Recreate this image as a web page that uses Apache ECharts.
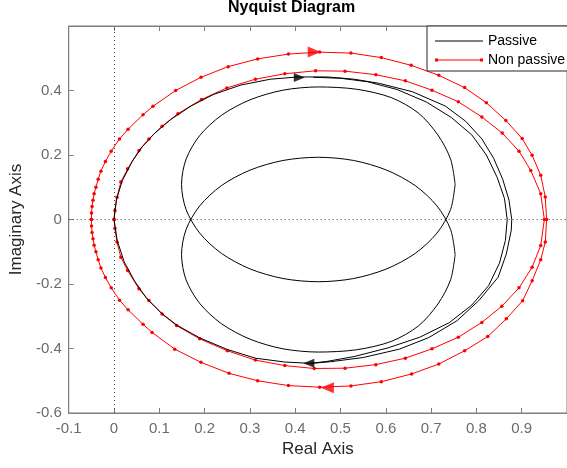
<!DOCTYPE html>
<html>
<head>
<meta charset="utf-8">
<title>Nyquist Diagram</title>
<script src="https://cdn.jsdelivr.net/npm/echarts@6/dist/echarts.min.js"></script>
<style>
  html, body { margin: 0; padding: 0; background: #fff; }
  #chart { width: 567px; height: 468px; }
</style>
</head>
<body>
<div id="chart"></div>
<script>
  // passive system: outer loop, second pass on the right, two inner loops
  const passiveOuter = [
    [0, 0], [0.005, 0.06], [0.018, 0.12], [0.04, 0.18], [0.062, 0.225], [0.09, 0.268],
    [0.125, 0.31], [0.17, 0.352], [0.22, 0.388], [0.28, 0.417], [0.345, 0.435], [0.406, 0.442],
    [0.47, 0.442], [0.53, 0.435], [0.586, 0.422], [0.659, 0.396], [0.731, 0.352], [0.776, 0.305],
    [0.812, 0.25], [0.838, 0.19], [0.858, 0.125], [0.872, 0.06], [0.878, 0],
    [0.877, -0.033], [0.866, -0.107], [0.848, -0.179], [0.805, -0.252], [0.757, -0.314],
    [0.695, -0.366], [0.63, -0.402], [0.55, -0.428], [0.478, -0.441], [0.435, -0.446],
    [0.377, -0.442], [0.312, -0.43], [0.25, -0.403], [0.189, -0.367], [0.138, -0.327],
    [0.106, -0.292], [0.072, -0.245], [0.045, -0.19], [0.022, -0.13], [0.007, -0.065], [0, 0]
  ]
  const passiveRight = [
    [0.44, 0.441], [0.5, 0.438], [0.56, 0.427], [0.625, 0.403], [0.69, 0.364], [0.745, 0.316],
    [0.79, 0.262], [0.822, 0.2], [0.846, 0.13], [0.862, 0.065], [0.868, 0], [0.864, -0.065],
    [0.851, -0.135], [0.827, -0.205], [0.79, -0.265], [0.74, -0.32], [0.675, -0.365],
    [0.605, -0.398], [0.53, -0.425], [0.47, -0.44], [0.435, -0.446]
  ]
  const passiveUpper = [
    [0.753, 0.109], [0.743, 0.187], [0.715, 0.262], [0.672, 0.33], [0.612, 0.378], [0.535, 0.404],
    [0.451, 0.411], [0.373, 0.401], [0.3, 0.371], [0.237, 0.323], [0.189, 0.26], [0.159, 0.187],
    [0.149, 0.109], [0.159, 0.031], [0.189, -0.042], [0.237, -0.105], [0.3, -0.153], [0.373, -0.183],
    [0.451, -0.193], [0.529, -0.183], [0.602, -0.153], [0.665, -0.105], [0.713, -0.042],
    [0.743, 0.031], [0.753, 0.109]
  ]
  const passiveLower = [
    [0.753, -0.109], [0.743, -0.187], [0.715, -0.262], [0.672, -0.33], [0.612, -0.378], [0.535, -0.404],
    [0.451, -0.411], [0.373, -0.401], [0.3, -0.371], [0.237, -0.323], [0.189, -0.26], [0.159, -0.187],
    [0.149, -0.109], [0.159, -0.031], [0.189, 0.042], [0.237, 0.105], [0.3, 0.153], [0.373, 0.183],
    [0.451, 0.193], [0.529, 0.183], [0.602, 0.153], [0.665, 0.105], [0.713, 0.042],
    [0.743, -0.031], [0.753, -0.109]
  ]

  // non passive system: two loops sampled at the frequency points
  const nonPassiveInner = [
    [0, 0], [0.002, 0.028], [0.0065, 0.069], [0.015, 0.116], [0.03, 0.157], [0.055, 0.214],
    [0.077, 0.25], [0.106, 0.289], [0.141, 0.328], [0.193, 0.372], [0.249, 0.408], [0.312, 0.435],
    [0.377, 0.452], [0.445, 0.461], [0.51, 0.46], [0.578, 0.449], [0.643, 0.43], [0.702, 0.401],
    [0.76, 0.365], [0.812, 0.318], [0.857, 0.268], [0.894, 0.212], [0.92, 0.152], [0.942, 0.08],
    [0.95, 0],
    [0.942, -0.081], [0.923, -0.148], [0.894, -0.212], [0.856, -0.269], [0.812, -0.319],
    [0.76, -0.365], [0.702, -0.401], [0.643, -0.43], [0.578, -0.45], [0.51, -0.461], [0.442, -0.462],
    [0.377, -0.453], [0.312, -0.436], [0.25, -0.407], [0.189, -0.37], [0.138, -0.329],
    [0.106, -0.293], [0.077, -0.251], [0.055, -0.215], [0.03, -0.158], [0.015, -0.117],
    [0.0065, -0.07], [0.002, -0.028], [0, 0]
  ]
  const nonPassiveOuter = [
    [-0.05, 0], [-0.0497, 0.02], [-0.0485, 0.04], [-0.0465, 0.06], [-0.044, 0.08], [-0.04, 0.1],
    [-0.035, 0.125], [-0.029, 0.15], [-0.019, 0.18], [-0.0063, 0.212], [0.012, 0.25], [0.031, 0.28],
    [0.064, 0.325], [0.086, 0.351], [0.136, 0.4], [0.192, 0.441], [0.252, 0.474], [0.317, 0.498],
    [0.385, 0.513], [0.454, 0.519], [0.523, 0.516], [0.59, 0.502], [0.656, 0.478], [0.717, 0.447],
    [0.774, 0.409], [0.822, 0.362], [0.865, 0.307], [0.901, 0.251], [0.923, 0.199], [0.942, 0.137],
    [0.952, 0.07], [0.955, 0],
    [0.952, -0.07], [0.942, -0.125], [0.923, -0.19], [0.902, -0.252], [0.866, -0.308],
    [0.825, -0.363], [0.774, -0.407], [0.717, -0.448], [0.657, -0.479], [0.59, -0.503],
    [0.523, -0.516], [0.454, -0.52], [0.385, -0.515], [0.317, -0.5], [0.254, -0.477],
    [0.192, -0.443], [0.134, -0.402], [0.084, -0.35], [0.064, -0.325], [0.031, -0.28],
    [0.012, -0.25], [-0.0063, -0.212], [-0.019, -0.18], [-0.029, -0.15], [-0.035, -0.125],
    [-0.04, -0.1], [-0.044, -0.08], [-0.0465, -0.06], [-0.0485, -0.04], [-0.0497, -0.02], [-0.05, 0]
  ]

  // direction arrows
  const passiveArrowRight = [[0.409, 0.44]]
  const passiveArrowLeft = [[0.43, -0.446]]
  const nonPassiveArrowRight = [[0.442, 0.519]]
  const nonPassiveArrowLeft = [[0.471, -0.522]]

  const FONT = '"Liberation Sans", Arial, Helvetica, sans-serif'
  const AXIS_GRAY = '#7f7f7f'
  const LABEL_GRAY = '#6b6b6b'

  function passiveLine (data, smooth, withMarkLine) {
    let s = {
      name: 'Passive',
      type: 'line',
      data: data,
      smooth: smooth,
      showSymbol: false,
      symbol: 'none',
      color: '#000',
      lineStyle: { color: '#000', width: 1 },
      z: 3
    }
    if (withMarkLine) {
      s.markLine = {
        silent: true,
        symbol: 'none',
        label: { show: false },
        lineStyle: { color: '#444', type: [1, 3], width: 1 },
        data: [{ xAxis: 0 }, { yAxis: 0 }],
        z: 1
      }
    }
    return s
  }

  function nonPassiveLine (data) {
    return {
      name: 'Non passive',
      type: 'line',
      data: data,
      showSymbol: true,
      symbol: 'circle',
      symbolSize: 3.5,
      color: '#ff0000',
      itemStyle: { color: '#ff0000' },
      lineStyle: { color: '#ff0000', width: 1 },
      z: 2
    }
  }

  function arrow (data, color, rotate, size) {
    return {
      type: 'scatter',
      data: data,
      symbol: 'triangle',
      symbolRotate: rotate,
      symbolSize: size,
      itemStyle: { color: color },
      silent: true,
      z: 4
    }
  }

  const xAxisBase = {
    type: 'value',
    min: -0.1,
    max: 1.0,
    interval: 0.1,
    axisLine: { show: true, onZero: false, lineStyle: { color: AXIS_GRAY, width: 1 } },
    axisTick: { show: true, inside: true, length: 5, lineStyle: { color: AXIS_GRAY } },
    splitLine: { show: false }
  }

  let chart = echarts.init(document.getElementById('chart'), null, { renderer: 'canvas' })
  let option = {
    animation: false,
    textStyle: { fontFamily: FONT },
    title: {
      text: 'Nyquist Diagram',
      left: 228,
      top: 0,
      padding: 0,
      textStyle: { fontFamily: FONT, fontSize: 16, fontWeight: 'bold', color: '#000' }
    },
    legend: {
      data: [
        { name: 'Passive', icon: 'path://M0,1.5h48v1h-48z' },
        { name: 'Non passive', icon: 'path://M0,1.5h48v1h-48z M0,0.5h3v3h-3z M45,0.5h3v3h-3z' }
      ],
      orient: 'vertical',
      left: 427,
      top: 26,
      padding: [8, 10, 4, 8],
      itemWidth: 48,
      itemHeight: 4,
      itemGap: 5,
      backgroundColor: '#fff',
      borderColor: '#262626',
      borderWidth: 1,
      borderRadius: 0,
      textStyle: { fontFamily: FONT, fontSize: 14, color: '#000' }
    },
    grid: {
      left: 67,
      right: -7,
      top: 26,
      bottom: 55,
      show: true,
      borderColor: AXIS_GRAY,
      borderWidth: 1,
      backgroundColor: '#fff'
    },
    xAxis: [
      Object.assign({}, xAxisBase, {
        position: 'bottom',
        name: 'Real Axis',
        nameLocation: 'middle',
        nameGap: 28,
        nameTextStyle: { fontFamily: FONT, fontSize: 17, color: '#262626' },
        axisLabel: { fontFamily: FONT, fontSize: 15, color: LABEL_GRAY, margin: 8, showMaxLabel: false }
      }),
      Object.assign({}, xAxisBase, {
        position: 'top',
        axisLabel: { show: false }
      })
    ],
    yAxis: {
      type: 'value',
      min: -0.6,
      max: 0.6,
      interval: 0.2,
      name: 'Imaginary Axis',
      nameLocation: 'middle',
      nameGap: 38,
      nameTextStyle: { fontFamily: FONT, fontSize: 17, color: '#262626' },
      axisLine: { show: true, onZero: false, lineStyle: { color: AXIS_GRAY, width: 1 } },
      axisTick: { show: true, inside: true, length: 5, lineStyle: { color: AXIS_GRAY } },
      axisLabel: { fontFamily: FONT, fontSize: 15, color: LABEL_GRAY, margin: 7, showMaxLabel: false },
      splitLine: { show: false }
    },
    series: [
      passiveLine(passiveOuter, false, true),
      passiveLine(passiveRight, false, false),
      passiveLine(passiveUpper, 0.3, false),
      passiveLine(passiveLower, 0.3, false),
      nonPassiveLine(nonPassiveInner),
      nonPassiveLine(nonPassiveOuter),
      arrow(passiveArrowRight, '#000', -90, [9, 11]),
      arrow(passiveArrowLeft, '#000', 90, [9, 11]),
      arrow(nonPassiveArrowRight, '#ff0000', -90, [11, 13]),
      arrow(nonPassiveArrowLeft, '#ff0000', 90, [11, 13])
    ]
  }
  chart.setOption(option)
</script>
</body>
</html>
